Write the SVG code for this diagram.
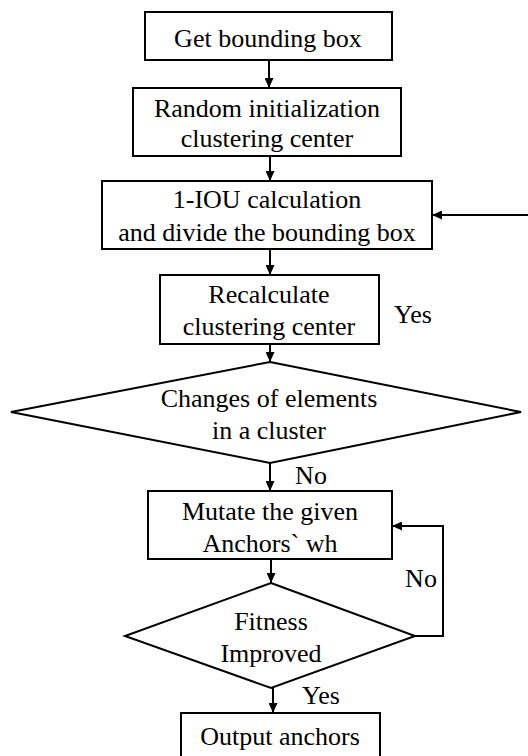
<svg xmlns="http://www.w3.org/2000/svg" width="528" height="756" viewBox="0 0 528 756">
<defs>
<style>
.n{fill:#fff;stroke:#000;stroke-width:2}
.c{fill:none;stroke:#000;stroke-width:2}
text{font-family:"Liberation Serif","Times New Roman",serif;font-size:26px;text-anchor:middle;fill:#000}
</style>
<marker id="a" markerUnits="userSpaceOnUse" markerWidth="10" markerHeight="9" refX="10" refY="4.5" orient="auto">
<path d="M0,0 L10,4.5 L0,9 z" fill="#000"/>
</marker>
</defs>
<rect width="528" height="756" fill="#fff"/>
<g id="connectors">
<line class="c" x1="269" y1="60" x2="269" y2="88" marker-end="url(#a)"/>
<line class="c" x1="270" y1="156" x2="270" y2="181" marker-end="url(#a)"/>
<line class="c" x1="528" y1="215" x2="432" y2="215" marker-end="url(#a)"/>
<line class="c" x1="270" y1="249" x2="270" y2="275" marker-end="url(#a)"/>
<line class="c" x1="270" y1="344" x2="270" y2="362" marker-end="url(#a)"/>
<line class="c" x1="270" y1="463" x2="270" y2="491" marker-end="url(#a)"/>
<line class="c" x1="271" y1="559" x2="271" y2="583" marker-end="url(#a)"/>
<polyline class="c" points="415,636 443,636 443,526 392,526" marker-end="url(#a)"/>
<line class="c" x1="273" y1="688" x2="273" y2="713" marker-end="url(#a)"/>
<text x="413" y="323" font-family="Liberation Serif" font-size="26">Yes</text>
<text x="311" y="484" font-family="Liberation Serif" font-size="26">No</text>
<text x="421" y="587" font-family="Liberation Serif" font-size="26">No</text>
<text x="321" y="704" font-family="Liberation Serif" font-size="26">Yes</text>
</g>
<g id="n1">
<rect class="n" x="145" y="12" width="247" height="48"/>
<text x="268" y="47" font-family="Liberation Serif" font-size="26">Get bounding box</text>
</g>
<g id="n2">
<rect class="n" x="133" y="88" width="268" height="68"/>
<text x="267" y="117" font-family="Liberation Serif" font-size="26">Random initialization</text>
<text x="267" y="147" font-family="Liberation Serif" font-size="26">clustering center</text>
</g>
<g id="n3">
<rect class="n" x="102" y="181" width="330" height="68"/>
<text x="267" y="208" font-family="Liberation Serif" font-size="26">1-IOU calculation</text>
<text x="267" y="241" font-family="Liberation Serif" font-size="26">and divide the bounding box</text>
</g>
<g id="n4">
<rect class="n" x="160" y="275" width="219" height="69"/>
<text x="269" y="303" font-family="Liberation Serif" font-size="26">Recalculate</text>
<text x="269" y="335" font-family="Liberation Serif" font-size="26">clustering center</text>
</g>
<g id="d1">
<polygon class="n" points="270,362 521,412 270,463 11,412"/>
<text x="269" y="407" font-family="Liberation Serif" font-size="26">Changes of elements</text>
<text x="269" y="439" font-family="Liberation Serif" font-size="26">in a cluster</text>
</g>
<g id="n5">
<rect class="n" x="148" y="491" width="244" height="68"/>
<text x="270" y="520" font-family="Liberation Serif" font-size="26">Mutate the given</text>
<text x="270" y="552" font-family="Liberation Serif" font-size="26">Anchors` wh</text>
</g>
<g id="d2">
<polygon class="n" points="271,583 415,636 271,688 125,636"/>
<text x="271" y="630" font-family="Liberation Serif" font-size="26">Fitness</text>
<text x="271" y="662" font-family="Liberation Serif" font-size="26">Improved</text>
</g>
<g id="n6">
<rect class="n" x="181" y="713" width="199" height="60"/>
<text x="280" y="745" font-family="Liberation Serif" font-size="26">Output anchors</text>
</g>
</svg>
